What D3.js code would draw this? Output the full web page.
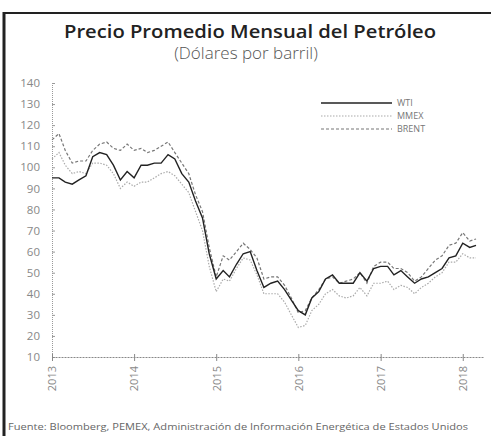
<!DOCTYPE html>
<html lang="es">
<head>
<meta charset="utf-8">
<title>Precio Promedio Mensual del Petróleo</title>
<script src="https://d3js.org/d3.v7.min.js"></script>
<style>
  body { margin: 0; background: #fff; }
  text { font-family: "Open Sans", "DejaVu Sans", sans-serif; }
</style>
</head>
<body>
<script>
// monthly averages, Jan 2013 .. Mar 2018 (USD per barrel)
const startMonth = "2013-01";
const wti = [95, 95, 93, 92, 94, 96, 105, 107, 106, 101, 94, 98,
             95, 101, 101, 102, 102, 106, 104, 97, 93, 84, 76, 59,
             47, 51, 48, 54, 59, 60, 51, 43, 45, 46, 42, 37,
             32, 30, 38, 41, 47, 49, 45, 45, 45, 50, 46, 52,
             53, 53, 49, 51, 48, 45, 47, 48, 50, 52, 57, 58,
             64, 62, 63];
const mmex = [104, 107, 101, 97, 98, 97, 102, 102, 101, 97, 90, 93,
              91, 93, 93, 95, 97, 98, 96, 92, 88, 79, 70, 53,
              41, 47, 46, 52, 57, 56, 49, 40, 40, 40, 36, 30,
              24, 25, 32, 35, 40, 42, 39, 38, 39, 43, 39, 45,
              45, 46, 42, 44, 43, 40, 43, 45, 48, 50, 55, 55,
              59, 57, 57];
const brent = [113, 116, 108, 102, 103, 103, 108, 111, 112, 109, 108, 111,
               108, 109, 107, 108, 110, 112, 107, 102, 97, 87, 79, 62,
               48, 58, 56, 60, 64, 61, 57, 47, 48, 48, 44, 38,
               31, 32, 38, 42, 47, 48, 45, 46, 47, 50, 45, 53,
               55, 55, 52, 52, 50, 46, 48, 52, 56, 58, 63, 64,
               69, 65, 66];
const yTicks = [10, 20, 30, 40, 50, 60, 70, 80, 90, 100, 110, 120, 130, 140];
const yearTicks = ["2013", "2014", "2015", "2016", "2017", "2018"];
const seriesNames = ["WTI", "MMEX", "BRENT"];

const W = 491, H = 436;
const svg = d3.select("body").append("svg")
    .attr("width", W).attr("height", H);

svg.append("rect").attr("width", W).attr("height", H).attr("fill", "#fff");

// frame (scan edge)
svg.append("line").attr("x1", 4).attr("x2", W).attr("y1", 13).attr("y2", 13)
    .attr("stroke", "#222").attr("stroke-width", 2);
svg.append("line").attr("x1", 4).attr("x2", 4).attr("y1", 12).attr("y2", H)
    .attr("stroke", "#222").attr("stroke-width", 3);

// titles
svg.append("text").attr("x", 250).attr("y", 38).attr("text-anchor", "middle")
    .attr("font-size", 18.5).attr("font-weight", 600).attr("fill", "#222")
    .attr("textLength", 372).attr("lengthAdjust", "spacingAndGlyphs")
    .text("Precio Promedio Mensual del Petróleo");
svg.append("text").attr("x", 246).attr("y", 59).attr("text-anchor", "middle")
    .attr("font-size", 17).attr("font-weight", 300).attr("fill", "#555")
    .text("(Dólares por barril)");

const parse = d3.timeParse("%Y-%m");
const t0 = parse(startMonth);
const dates = wti.map((d, i) => d3.timeMonth.offset(t0, i));

const x = d3.scaleTime()
    .domain([t0, d3.timeMonth.offset(t0, 63)])
    .range([52, 483]);
const y = d3.scaleLinear().domain([10, 140]).range([357, 83]);

// y axis
const yAxis = svg.append("g").attr("transform", "translate(52,0)")
    .call(d3.axisRight(y).tickValues(yTicks).tickSize(3).tickFormat(d => d));
yAxis.select(".domain").attr("stroke", "#999").attr("stroke-dasharray", "1,1");
yAxis.selectAll(".tick line").attr("stroke", "#999");
yAxis.selectAll(".tick text").attr("x", -12).attr("text-anchor", "end")
    .attr("font-size", 11.5).attr("fill", "#888")
    .attr("font-family", "\"DejaVu Sans\", sans-serif");

// x axis
const xAxis = svg.append("g").attr("transform", "translate(0,357)")
    .call(d3.axisBottom(x)
        .tickValues(yearTicks.map(s => parse(s + "-01")))
        .tickSize(4).tickSizeOuter(0)
        .tickFormat(d3.timeFormat("%Y")));
xAxis.select(".domain").attr("stroke", "#888").attr("stroke-dasharray", "2,1");
xAxis.selectAll(".tick line").attr("y1", -3).attr("stroke", "#888");
xAxis.selectAll(".tick text")
    .attr("transform", "rotate(-90)")
    .attr("x", -9).attr("y", 0).attr("dy", "0.35em")
    .attr("text-anchor", "end")
    .attr("font-size", 11).attr("fill", "#888")
    .attr("font-family", "\"DejaVu Sans\", sans-serif");

// lines
const styles = {
  WTI:   { values: wti,   stroke: "#222", width: 1.4, dash: null },
  MMEX:  { values: mmex,  stroke: "#aaa", width: 1.2, dash: "1.5,1.5" },
  BRENT: { values: brent, stroke: "#777", width: 1.2, dash: "3,2" }
};

const line = d3.line().x(d => x(d[0])).y(d => y(d[1]));

["MMEX", "BRENT", "WTI"].forEach(name => {
  const s = styles[name];
  svg.append("path")
      .datum(s.values.map((v, i) => [dates[i], v]))
      .attr("fill", "none")
      .attr("stroke", s.stroke)
      .attr("stroke-width", s.width)
      .attr("stroke-dasharray", s.dash)
      .attr("d", line);
});

// legend
const legend = svg.append("g").attr("transform", "translate(321,103)");
seriesNames.forEach((name, i) => {
  const s = styles[name];
  const g = legend.append("g").attr("transform", "translate(0," + (i * 13) + ")");
  g.append("line").attr("x1", 0).attr("x2", 71)
      .attr("stroke", s.stroke).attr("stroke-width", s.width)
      .attr("stroke-dasharray", s.dash);
  g.append("text").attr("x", 76).attr("dy", "0.35em")
      .attr("font-size", 9).attr("fill", "#777")
      .attr("font-family", "\"DejaVu Sans\", sans-serif")
      .text(name);
});

// source
svg.append("text").attr("x", 8).attr("y", 430)
    .attr("font-size", 9.5).attr("fill", "#666")
    .attr("textLength", 460).attr("lengthAdjust", "spacingAndGlyphs")
    .text("Fuente: Bloomberg, PEMEX, Administración de Información Energética de Estados Unidos");
</script>
</body>
</html>
